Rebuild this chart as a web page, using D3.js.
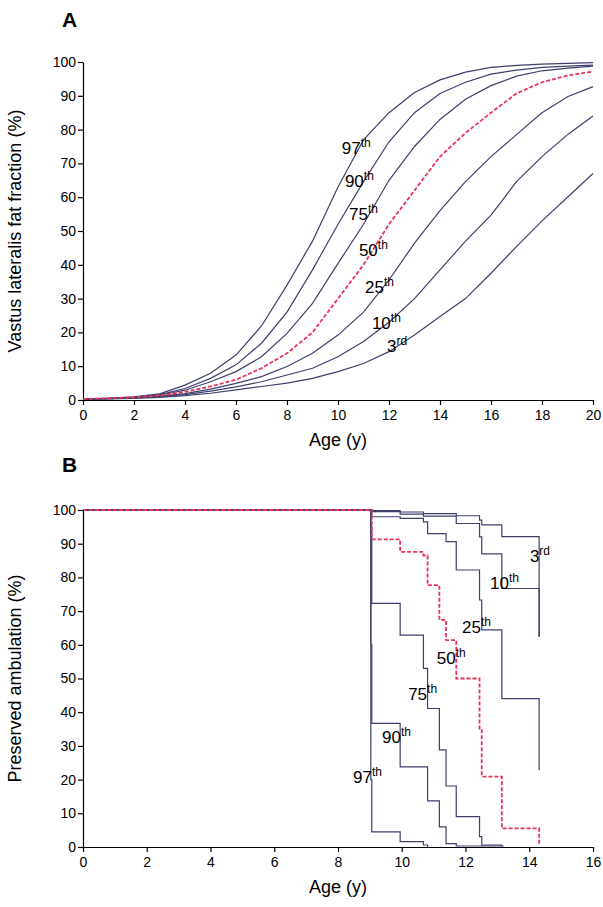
<!DOCTYPE html>
<html>
<head>
<meta charset="utf-8">
<script src="https://cdn.jsdelivr.net/npm/d3@7"></script>
<style>
  body { margin: 0; background: #fff; }
  text { font-family: "Liberation Sans", Arial, sans-serif; }
</style>
</head>
<body>
<div id="chart"></div>
<script>
// Panel A: fat fraction percentile curves by age
var agesA = [0, 1, 2, 3, 4, 5, 6, 7, 8, 9, 10, 11, 12, 13, 14, 15, 16, 17, 18, 19, 20];
var fatP97 = [0.3, 0.5, 0.9, 1.8, 4.4, 7.9, 13.3, 21.9, 34, 47, 63, 77, 85, 91, 94.7, 97, 98.4, 99, 99.4, 99.6, 99.8];
var fatP90 = [0.3, 0.5, 0.8, 1.6, 3.4, 6.4, 10.4, 16.8, 26, 38.5, 52, 64.6, 76.4, 85, 90.7, 94, 96.4, 97.6, 98.4, 98.8, 99.1];
var fatP75 = [0.3, 0.5, 0.8, 1.4, 2.9, 5.4, 8.4, 12.8, 19.7, 28.6, 40.4, 52, 65, 75, 83, 89, 93, 95.8, 97.4, 98.2, 98.8];
var fatP50 = [0.3, 0.5, 0.8, 1.3, 2.4, 4.0, 6.0, 9.4, 13.8, 20, 30, 40, 52, 62, 72, 79, 85, 90.7, 94, 96, 97.2];
var fatP25 = [0.3, 0.4, 0.7, 1.1, 1.9, 3.2, 4.9, 6.9, 9.9, 13.8, 19.2, 26, 35.5, 46.4, 56, 64.6, 72, 78.5, 85, 89.7, 92.7];
var fatP10 = [0.3, 0.4, 0.6, 1.0, 1.6, 2.6, 3.9, 5.4, 7.4, 9.4, 12.8, 17.3, 23, 30, 38.5, 47, 54.7, 64.6, 72, 78.5, 84];
var fatP3 = [0.2, 0.3, 0.5, 0.8, 1.3, 2.0, 3.0, 4.0, 5.0, 6.4, 8.4, 10.8, 14.3, 19.2, 24.7, 30, 37.5, 45.4, 53, 60, 67];
var percentileLabels = ["97", "90", "75", "50", "25", "10", "3"];
var percentileSuffix = ["th", "th", "th", "th", "th", "th", "rd"];
var labelPosA = [[10.15, 72.8], [10.27, 63], [10.43, 53.3], [10.82, 42.6], [11.06, 31.7], [11.33, 21], [11.92, 14.2]];

// Panel B: preserved ambulation step curves, [age, value] pairs (value holds from that age on)
var ambP3 = [[0, 100], [9.0, 100], [9.06, 99.8], [9.95, 99.4], [10.68, 98.9], [11.71, 98.3], [12.44, 97], [12.51, 95.6], [13.14, 92.1], [14.31, 92.1], [14.31, 62.4]];
var ambP10 = [[0, 100], [9.0, 100], [9.06, 99.5], [9.95, 98.8], [10.68, 98.2], [11.71, 96], [12.44, 92], [12.51, 87], [13.14, 76.7], [14.31, 76.7], [14.31, 62.4]];
var ambP25 = [[0, 100], [9.0, 100], [9.06, 98], [9.95, 97.5], [10.68, 96.5], [10.81, 93], [11.39, 90.6], [11.71, 82.2], [12.44, 73.3], [12.51, 64.4], [13.14, 44], [14.31, 44], [14.31, 22.8]];
var ambP50 = [[0, 100], [9.0, 100], [9.06, 91.3], [9.95, 87.6], [10.68, 86.5], [10.81, 77.7], [11.18, 67.4], [11.39, 61.4], [11.71, 50], [12.44, 34.7], [12.51, 20.9], [13.14, 5.5], [14.31, 5.5], [14.31, 0.5]];
var ambP75 = [[0, 100], [9.0, 100], [9.03, 95], [9.06, 72.3], [9.95, 62.9], [10.68, 53], [10.81, 41.1], [11.18, 28.8], [11.39, 18.1], [11.71, 9], [12.44, 3.1], [12.51, 0.6], [13.14, 0.3], [13.2, 0.3]];
var ambP90 = [[0, 100], [9.0, 100], [9.03, 60], [9.06, 36.7], [9.95, 23.8], [10.81, 13.7], [11.18, 6], [11.39, 1], [11.71, 0.3], [13.14, 0.3]];
var ambP97 = [[0, 100], [9.0, 100], [9.03, 20], [9.06, 4.5], [9.95, 1.6], [10.68, 0.6], [10.81, 0]];
var labelPosB = [[8.47, 19], [9.38, 30.9], [10.2, 43.6], [11.1, 54.3], [11.89, 63.5], [12.77, 76.6], [14.02, 84.6]];

var lineColor = "#3f3f6e";
var medianColor = "#e8335a";

var svg = d3.select("#chart").append("svg")
  .attr("width", 603)
  .attr("height", 907);

// shared y ticks
var yTicks = d3.range(0, 101, 10);

function drawAxes(g, x, y, xTicks, width, height, xTitle, yTitle) {
  g.append("g")
    .attr("transform", `translate(0, ${height})`)
    .call(d3.axisBottom(x).tickValues(xTicks).tickSize(5).tickSizeOuter(0))
    .call(a => a.selectAll("text").attr("font-size", 14).attr("fill", "#000").attr("dy", "0.85em"));
  g.append("g")
    .call(d3.axisLeft(y).tickValues(yTicks).tickSize(5).tickSizeOuter(0))
    .call(a => a.selectAll("text").attr("font-size", 14).attr("fill", "#000").attr("x", -7));
  g.selectAll(".domain, .tick line").attr("stroke", "#000").attr("stroke-width", 1.2);

  g.append("text")
    .attr("x", width / 2)
    .attr("y", height + 46)
    .attr("text-anchor", "middle")
    .attr("font-size", 18)
    .text(xTitle);
  g.append("text")
    .attr("transform", `translate(-62, ${height / 2}) rotate(-90)`)
    .attr("text-anchor", "middle")
    .attr("font-size", 18)
    .text(yTitle);
}

function addLabels(g, x, y, positions) {
  positions.forEach(function(p, i) {
    var t = g.append("text")
      .attr("x", x(p[0]))
      .attr("y", y(p[1]))
      .attr("font-size", 17);
    t.append("tspan").text(percentileLabels[i]);
    t.append("tspan").attr("dy", -7).attr("font-size", 12).text(percentileSuffix[i]);
  });
}

// ---- Panel A ----
var gA = svg.append("g").attr("transform", "translate(83, 62)");
var wA = 510, hA = 338;
var xA = d3.scaleLinear().domain([0, 20]).range([0, wA]);
var yA = d3.scaleLinear().domain([0, 100]).range([hA, 0]);
drawAxes(gA, xA, yA, d3.range(0, 21, 2), wA, hA, "Age (y)", "Vastus lateralis fat fraction (%)");

var lineA = d3.line().x((d, i) => xA(agesA[i])).y(d => yA(d));
[fatP97, fatP90, fatP75, fatP25, fatP10, fatP3].forEach(function(s) {
  gA.append("path").datum(s).attr("d", lineA)
    .attr("fill", "none").attr("stroke", lineColor).attr("stroke-width", 1.2);
});
gA.append("path").datum(fatP50).attr("d", lineA)
  .attr("fill", "none").attr("stroke", medianColor).attr("stroke-width", 1.8)
  .attr("stroke-dasharray", "4,2");
addLabels(gA, xA, yA, labelPosA);

svg.append("text").attr("x", 62).attr("y", 27)
  .attr("font-size", 21).attr("font-weight", "bold").text("A");

// ---- Panel B ----
var gB = svg.append("g").attr("transform", "translate(83, 510)");
var wB = 510, hB = 337;
var xB = d3.scaleLinear().domain([0, 16]).range([0, wB]);
var yB = d3.scaleLinear().domain([0, 100]).range([hB, 0]);

var lineB = d3.line().x(d => xB(d[0])).y(d => yB(d[1])).curve(d3.curveStepAfter);
[ambP3, ambP10, ambP25, ambP75, ambP90, ambP97].forEach(function(s) {
  gB.append("path").datum(s).attr("d", lineB)
    .attr("fill", "none").attr("stroke", lineColor).attr("stroke-width", 1.2);
});
gB.append("path").datum(ambP50).attr("d", lineB)
  .attr("fill", "none").attr("stroke", medianColor).attr("stroke-width", 1.8)
  .attr("stroke-dasharray", "4,2");
drawAxes(gB, xB, yB, d3.range(0, 17, 2), wB, hB, "Age (y)", "Preserved ambulation (%)");
addLabels(gB, xB, yB, labelPosB);

svg.append("text").attr("x", 62).attr("y", 472)
  .attr("font-size", 21).attr("font-weight", "bold").text("B");
</script>
</body>
</html>
